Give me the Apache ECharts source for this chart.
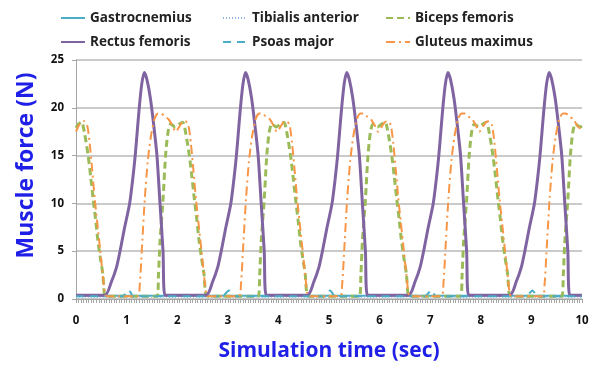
<!DOCTYPE html>
<html>
<head>
<meta charset="utf-8">
<script src="https://cdn.jsdelivr.net/npm/echarts@6/dist/echarts.min.js"></script>
<style>
  html, body { margin: 0; padding: 0; background: #fff; }
  #main { width: 595px; height: 368px; }
</style>
</head>
<body>
<div id="main"></div>
<script>
// names in legend order
const seriesNames = ['Gastrocnemius', 'Tibialis anterior', 'Biceps femoris', 'Rectus femoris', 'Psoas major', 'Gluteus maximus'];

// [time (sec), force (N)]
const gastrocnemius = [[0, 0.35], [10, 0.35]];
const tibialisAnterior = [[0, 0.2], [10, 0.2]];

const bicepsFemoris = [
  [0, 17.9], [0.05, 18.3], [0.11, 18.5], [0.17, 17.3], [0.24, 15], [0.29, 12.8], [0.34, 10.4], [0.39, 8.2], [0.43, 6.2], [0.48, 4.3], [0.53, 2.6], [0.56, 0.6], [0.6, 0.3],
  [1.6, 0.3], [1.63, 2.5], [1.66, 6], [1.72, 10.4], [1.77, 15], [1.82, 17.5], [1.87, 18.3], [1.96, 18.0],
  [2.04, 18.3], [2.11, 18.5], [2.17, 17.3], [2.24, 15], [2.29, 12.8], [2.34, 10.4], [2.39, 8.2], [2.43, 6.2], [2.48, 4.3], [2.53, 2.6], [2.56, 0.6], [2.6, 0.3],
  [3.6, 0.3], [3.63, 2.5], [3.66, 6], [3.72, 10.4], [3.77, 15], [3.82, 17.5], [3.87, 18.3], [3.96, 18.0],
  [4.04, 18.3], [4.11, 18.5], [4.17, 17.3], [4.24, 15], [4.29, 12.8], [4.34, 10.4], [4.39, 8.2], [4.43, 6.2], [4.48, 4.3], [4.53, 2.6], [4.56, 0.6], [4.6, 0.3],
  [5.6, 0.3], [5.63, 2.5], [5.66, 6], [5.72, 10.4], [5.77, 15], [5.82, 17.5], [5.87, 18.3], [5.96, 18.0],
  [6.04, 18.3], [6.11, 18.5], [6.17, 17.3], [6.24, 15], [6.29, 12.8], [6.34, 10.4], [6.39, 8.2], [6.43, 6.2], [6.48, 4.3], [6.53, 2.6], [6.56, 0.6], [6.6, 0.3],
  [7.6, 0.3], [7.63, 2.5], [7.66, 6], [7.72, 10.4], [7.77, 15], [7.82, 17.5], [7.87, 18.3], [7.96, 18.0],
  [8.04, 18.3], [8.11, 18.5], [8.17, 17.3], [8.24, 15], [8.29, 12.8], [8.34, 10.4], [8.39, 8.2], [8.43, 6.2], [8.48, 4.3], [8.53, 2.6], [8.56, 0.6], [8.6, 0.3],
  [9.6, 0.3], [9.63, 2.5], [9.66, 6], [9.72, 10.4], [9.77, 15], [9.82, 17.5], [9.87, 18.3], [9.96, 18.0], [10, 18.1]
];

const rectusFemoris = [
  [0, 0.4], [0.57, 0.4], [0.7, 1.8], [0.8, 3.3], [0.87, 5], [0.95, 7.2], [1.06, 10], [1.12, 12.5], [1.17, 15], [1.21, 17.5], [1.25, 20], [1.3, 22.5], [1.35, 23.7], [1.4, 23.0], [1.47, 21], [1.54, 18], [1.6, 15], [1.66, 10], [1.72, 5], [1.76, 0.4],
  [2.57, 0.4], [2.7, 1.8], [2.8, 3.3], [2.87, 5], [2.95, 7.2], [3.06, 10], [3.12, 12.5], [3.17, 15], [3.21, 17.5], [3.25, 20], [3.3, 22.5], [3.35, 23.7], [3.4, 23.0], [3.47, 21], [3.54, 18], [3.6, 15], [3.66, 10], [3.72, 5], [3.76, 0.4],
  [4.57, 0.4], [4.7, 1.8], [4.8, 3.3], [4.87, 5], [4.95, 7.2], [5.06, 10], [5.12, 12.5], [5.17, 15], [5.21, 17.5], [5.25, 20], [5.3, 22.5], [5.35, 23.7], [5.4, 23.0], [5.47, 21], [5.54, 18], [5.6, 15], [5.66, 10], [5.72, 5], [5.76, 0.4],
  [6.57, 0.4], [6.7, 1.8], [6.8, 3.3], [6.87, 5], [6.95, 7.2], [7.06, 10], [7.12, 12.5], [7.17, 15], [7.21, 17.5], [7.25, 20], [7.3, 22.5], [7.35, 23.7], [7.4, 23.0], [7.47, 21], [7.54, 18], [7.6, 15], [7.66, 10], [7.72, 5], [7.76, 0.4],
  [8.57, 0.4], [8.7, 1.8], [8.8, 3.3], [8.87, 5], [8.95, 7.2], [9.06, 10], [9.12, 12.5], [9.17, 15], [9.21, 17.5], [9.25, 20], [9.3, 22.5], [9.35, 23.7], [9.4, 23.0], [9.47, 21], [9.54, 18], [9.6, 15], [9.66, 10], [9.72, 5], [9.76, 0.4],
  [10, 0.4]
];

const psoasMajor = [
  [0, 0.3], [0.92, 0.3], [0.98, 0.6], [1.03, 0.9], [1.08, 0.7], [1.12, 0.3],
  [2.9, 0.3], [2.96, 0.6], [3.02, 0.9], [3.07, 0.6], [3.1, 0.3],
  [4.9, 0.3], [4.96, 0.6], [5.02, 0.9], [5.07, 0.6], [5.1, 0.3],
  [6.9, 0.3], [6.96, 0.6], [7.02, 0.9], [7.07, 0.6], [7.1, 0.3],
  [8.9, 0.3], [8.96, 0.6], [9.02, 0.9], [9.07, 0.6], [9.1, 0.3],
  [10, 0.3]
];

const gluteusMaximus = [
  [0, 17.5], [0.05, 18.1], [0.1, 18.5], [0.16, 18.6], [0.22, 18.2], [0.27, 16.3], [0.32, 13.5], [0.37, 10.5], [0.42, 8.0], [0.48, 5.0], [0.53, 2.5], [0.57, 0.6], [0.6, 0.3],
  [1.22, 0.3], [1.26, 1.5], [1.31, 6], [1.36, 10.5], [1.42, 14.5], [1.48, 17], [1.55, 18.8], [1.62, 19.4], [1.68, 19.4], [1.75, 19.1], [1.83, 18.8], [1.9, 18.2], [1.97, 17.5],
  [2.05, 18.1], [2.1, 18.5], [2.16, 18.6], [2.22, 18.2], [2.27, 16.3], [2.32, 13.5], [2.37, 10.5], [2.42, 8.0], [2.48, 5.0], [2.53, 2.5], [2.57, 0.6], [2.6, 0.3],
  [3.22, 0.3], [3.26, 1.5], [3.31, 6], [3.36, 10.5], [3.42, 14.5], [3.48, 17], [3.55, 18.8], [3.62, 19.4], [3.68, 19.4], [3.75, 19.1], [3.83, 18.8], [3.9, 18.2], [3.97, 17.5],
  [4.05, 18.1], [4.1, 18.5], [4.16, 18.6], [4.22, 18.2], [4.27, 16.3], [4.32, 13.5], [4.37, 10.5], [4.42, 8.0], [4.48, 5.0], [4.53, 2.5], [4.57, 0.6], [4.6, 0.3],
  [5.22, 0.3], [5.26, 1.5], [5.31, 6], [5.36, 10.5], [5.42, 14.5], [5.48, 17], [5.55, 18.8], [5.62, 19.4], [5.68, 19.4], [5.75, 19.1], [5.83, 18.8], [5.9, 18.2], [5.97, 17.5],
  [6.05, 18.1], [6.1, 18.5], [6.16, 18.6], [6.22, 18.2], [6.27, 16.3], [6.32, 13.5], [6.37, 10.5], [6.42, 8.0], [6.48, 5.0], [6.53, 2.5], [6.57, 0.6], [6.6, 0.3],
  [7.22, 0.3], [7.26, 1.5], [7.31, 6], [7.36, 10.5], [7.42, 14.5], [7.48, 17], [7.55, 18.8], [7.62, 19.4], [7.68, 19.4], [7.75, 19.1], [7.83, 18.8], [7.9, 18.2], [7.97, 17.5],
  [8.05, 18.1], [8.1, 18.5], [8.16, 18.6], [8.22, 18.2], [8.27, 16.3], [8.32, 13.5], [8.37, 10.5], [8.42, 8.0], [8.48, 5.0], [8.53, 2.5], [8.57, 0.6], [8.6, 0.3],
  [9.22, 0.3], [9.26, 1.5], [9.31, 6], [9.36, 10.5], [9.42, 14.5], [9.48, 17], [9.55, 18.8], [9.62, 19.4], [9.68, 19.4], [9.75, 19.1], [9.83, 18.8], [9.9, 18.2], [10, 17.6]
];

const chart = echarts.init(document.getElementById('main'));

const legendText = { fontFamily: 'Open Sans', fontWeight: 'bold', fontSize: 13.5, color: '#222' };
const legendCol = (left, names) => ({
  left: left, top: 11, padding: 0, orient: 'vertical', itemGap: 10, itemWidth: 24, itemHeight: 14,
  itemStyle: { opacity: 0 },
  textStyle: legendText, data: names
});

const mkLine = (name, data, color, width, type, z) => ({
  name: name, type: 'line', data: data, symbol: 'none', smooth: 0.25, z: z,
  itemStyle: { color: color },
  lineStyle: { color: color, width: width, type: type }
});

const tickFont = { fontFamily: 'Open Sans', fontWeight: 'bold', fontSize: 11.5, color: '#111' };

chart.setOption({
  animation: false,
  legend: [
    legendCol(60, [seriesNames[0], seriesNames[3]]),
    legendCol(222, [seriesNames[1], seriesNames[4]]),
    legendCol(385, [seriesNames[2], seriesNames[5]])
  ],
  grid: { left: 76, right: 13, top: 60, bottom: 69 },
  xAxis: {
    type: 'value', min: 0, max: 10, interval: 1,
    name: 'Simulation time (sec)', nameLocation: 'middle', nameGap: 42,
    nameTextStyle: { fontFamily: 'Open Sans', fontWeight: 'bold', fontSize: 21, color: '#1f1fe8' },
    axisLine: { lineStyle: { color: '#a6a6a6', width: 1 } },
    axisTick: { show: true, length: 4, lineStyle: { color: '#a6a6a6' } },
    minorTick: { show: true, splitNumber: 20, length: 4, lineStyle: { color: '#a6a6a6' } },
    axisLabel: Object.assign({ margin: 16 }, tickFont),
    splitLine: { show: false }
  },
  yAxis: {
    type: 'value', min: 0, max: 25, interval: 5,
    name: 'Muscle force (N)', nameLocation: 'middle', nameGap: 38, nameRotate: 90,
    nameTextStyle: { fontFamily: 'Open Sans', fontWeight: 'bold', fontSize: 23, color: '#1f1fe8', padding: [0, 0, 0, 28] },
    axisLine: { show: true, lineStyle: { color: '#a6a6a6', width: 1 } },
    axisTick: { show: true, length: 4, lineStyle: { color: '#a6a6a6' } },
    axisLabel: Object.assign({ margin: 12 }, tickFont),
    splitLine: { lineStyle: { color: '#b8b8b8', width: 1.5 } }
  },
  series: [
    mkLine(seriesNames[0], gastrocnemius, '#4bacc6', 2, 'solid', 2),
    mkLine(seriesNames[1], tibialisAnterior, '#8eb4e3', 1.5, [1, 2], 3),
    mkLine(seriesNames[2], bicepsFemoris, '#9bbb59', 3, [7, 4], 4),
    mkLine(seriesNames[3], rectusFemoris, '#8064a2', 3, 'solid', 5),
    mkLine(seriesNames[4], psoasMajor, '#4bacc6', 2, [8, 6], 6),
    mkLine(seriesNames[5], gluteusMaximus, '#f79646', 2, [9, 4, 2, 4], 7)
  ]
});
</script>
</body>
</html>
